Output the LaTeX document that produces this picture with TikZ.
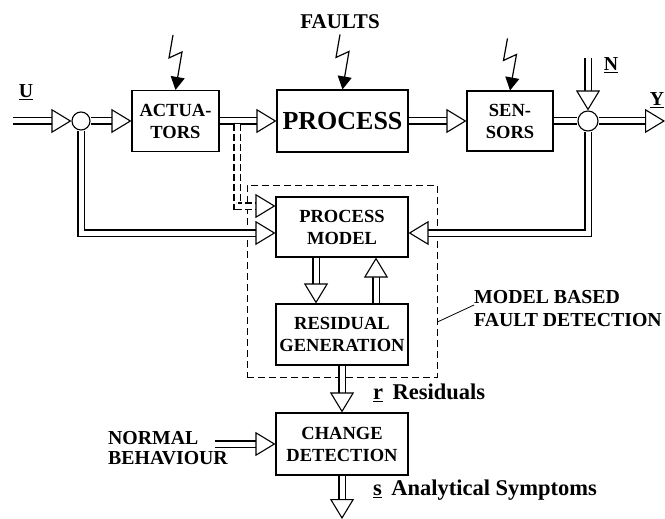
\documentclass[tikz,border=0pt]{standalone}
\usepackage{fontspec}
\setmainfont{Liberation Serif}
\usetikzlibrary{arrows.meta}

\tikzset{
  blk/.style={draw, line width=1.1pt, align=center, inner sep=1pt,
    font=\fontsize{18.5}{22}\selectfont\bfseries},
  sum/.style={circle, draw, line width=1.1pt, inner sep=0pt},
  lbl/.style={align=left, inner sep=0pt, font=\fontsize{19.8}{23}\selectfont\bfseries},
  dbl/.style={double, double distance=5pt, line width=1.1pt},
  tip/.style={draw=white, line width=0.3pt,
    -{Triangle[length=20pt, width=24pt, line width=1.1pt, color=black, fill=white]}},
  bolt/.style={line width=1.2pt, -{Triangle[length=13pt, width=14pt]}},
}
% double line ending in an open triangle
\newcommand{\feed}[2][]{\draw[dbl, shorten >=18pt, #1] #2; \draw[tip] #2;}

\begin{document}
\begin{tikzpicture}[x=1pt, y=-1pt]
\useasboundingbox (0,0) rectangle (665,519);

% main loop
\node[sum, minimum size=18pt] (sum1) at (81,121) {};
\node[blk, minimum width=87pt, minimum height=61pt] (act) at (175.5,121) {ACTUA-\\TORS};
\node[blk, minimum width=131pt, minimum height=62pt, font=\fontsize{26}{28}\selectfont\bfseries] (proc) at (342.5,121) {PROCESS};
\node[blk, minimum width=86pt, minimum height=60pt] (sens) at (510,121) {SEN-\\SORS};
\node[sum, minimum size=20pt] (sum2) at (588,121) {};

% fault detection part
\node[draw, dash pattern=on 7pt off 4pt, line width=0.9pt, minimum width=190pt, minimum height=192pt] (fdi) at (342,281) {};
\node[blk, minimum width=132pt, minimum height=60pt] (model) at (342,227) {PROCESS\\MODEL};
\node[blk, minimum width=132pt, minimum height=61pt] (resgen) at (342,334.5) {RESIDUAL\\GENERATION};
\node[blk, minimum width=132pt, minimum height=62pt] (change) at (342,444) {CHANGE\\DETECTION};

% labels
\node[lbl] (u) at (26,92) {\underline{U}};
\node[lbl] (y) at (657,100) {\underline{Y}};
\node[lbl] (n) at (611,65) {\underline{N}};
\node[lbl, font=\fontsize{21}{23}\selectfont\bfseries] (faults) at (340,22) {FAULTS};
\node[lbl, anchor=west, font=\fontsize{22.5}{24}\selectfont\bfseries] (res) at (373,393) {\underline{r}\ \,Residuals};
\node[lbl, anchor=west, font=\fontsize{22.5}{24}\selectfont\bfseries] (sym) at (373,490) {\underline{s}\ \,Analytical Symptoms};
\node[lbl, anchor=west] (mbfd) at (474,309) {MODEL BASED\\FAULT DETECTION};
\node[lbl, anchor=west, font=\fontsize{19.8}{20}\selectfont\bfseries] (normal) at (108,448) {NORMAL\\BEHAVIOUR};

\coordinate (uin) at (13,121);
\coordinate (yout) at (665,121);
\coordinate (nin) at (588,58);
\coordinate (tap) at (237,124);
\coordinate (nb) at (215,444);
\coordinate (sout) at (342,519);

% signal flow
\feed{(uin) -- (sum1.west)}
\feed{(sum1.east) -- (act.west)}
\feed{(act.east) -- (proc.west)}
\feed{(proc.east) -- (sens.west)}
\draw[dbl] (sens.east) -- (sum2.west);
\feed{(sum2.east) -- (yout)}
\feed{(nin) -- (sum2.north)}

% into the model
\feed[dash pattern=on 7pt off 3pt]{(tap) |- ([yshift=21pt]model.west)}
\feed{(sum1.south) |- ([yshift=-6pt]model.west)}
\feed{(sum2.south) |- ([yshift=-6pt]model.east)}
\feed{([xshift=-26pt]model.south) -- ([xshift=-26pt]resgen.north)}
\feed{([xshift=34pt]resgen.north) -- ([xshift=34pt]model.south)}
\feed{(resgen.south) -- (change.north)}
\feed{(nb) -- (change.west)}
\feed{(change.south) -- (sout)}

% faults
\draw[bolt] ([shift={(-2.5,-55)}]act.north) -- ++(-4,23) -- ++(13,-6) -- (act.north);
\draw[bolt] ([shift={(-2.5,-55)}]proc.north) -- ++(-4,23) -- ++(13,-6) -- (proc.north);
\draw[bolt] ([shift={(-2.5,-52)}]sens.north) -- ++(-4,22) -- ++(13,-6) -- (sens.north);

\draw[line width=0.8pt] ([yshift=-41pt]fdi.east) -- ([yshift=4pt]mbfd.west);
\end{tikzpicture}
\end{document}
